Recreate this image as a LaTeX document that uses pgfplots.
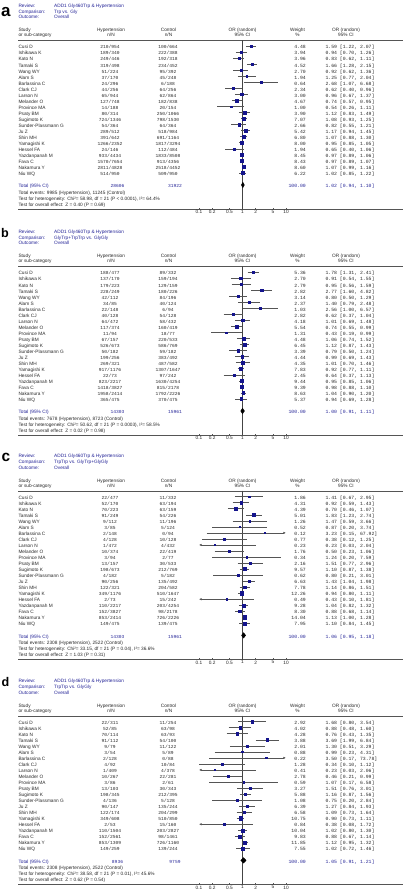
\documentclass[border=0pt]{standalone}
\usepackage{fontspec}
\setmainfont{Liberation Sans}
\newfontfamily\mono{Liberation Mono}
\usepackage{pgfplots}
\pgfplotsset{compat=1.18}
\usepackage{pgfplotstable}
\usetikzlibrary{arrows.meta}
\definecolor{rmblue}{RGB}{35,35,150}
\definecolor{mk}{RGB}{20,20,140}
\definecolor{ci}{RGB}{85,85,85}
\definecolor{txt}{RGB}{40,40,40}

\newcommand\sfs{\fontsize{4.75}{5}\selectfont}
\newcommand\mfs{\mono\fontsize{4.6}{5}\selectfont}
\newcommand\mfb{\mono\fontsize{4.8}{5}\selectfont}

\tikzset{noarr/.style={}, arrL/.style={{Latex[length=2.6pt,width=2.4pt]}-}, arrR/.style={-{Latex[length=2.6pt,width=2.4pt]}},
 ciline/.style={draw=ci, line width=0.55pt}}

\newcommand\mycol[5]{\foreach \s [count=\k] in #5 {\node[anchor=#4,inner sep=0pt,font=#1,text=txt] at (#2,{#3+(\k-1)*6.03}) {\s};}}

\newcommand\studies{Cusi D, Ishikawa K, Kato N, Tamaki S, Wang WY, Alam S, Barlassina C, Clark CJ, Larson N, Melander O, Province MA, Psaty BM, Sugimoto K, Sunder-Plassmann G, Ju Z, Shin MH, Yamagishi K, Hessel FA, Yazdanpanah M, Fava C, Nakamura Y, Niu WQ}

\newcommand\myheader[2]{%
 \begin{scope}[every node/.style={inner sep=0pt,font=\sfs,anchor=mid west}]
 \node[text=rmblue] at (18.3,{#1-41.8}) {Review:};
 \node[text=rmblue] at (18.3,{#1-35.9}) {Comparison:};
 \node[text=rmblue] at (18.3,{#1-30}) {Outcome:};
 \node[text=rmblue] at (54,{#1-41.8}) {ADD1 Gly460Trp \& Hypertension};
 \node[text=rmblue] at (54,{#1-35.9}) {#2};
 \node[text=rmblue] at (54,{#1-30}) {Overall};
 \node[text=txt] at (18.3,{#1-17.3}) {Study};
 \node[text=txt] at (18.3,{#1-12}) {or sub-category};
 \node[text=txt,anchor=mid] at (111,{#1-17.3}) {Hypertension};
 \node[text=txt,anchor=mid] at (111,{#1-12}) {n/N};
 \node[text=txt,anchor=mid] at (168.5,{#1-17.3}) {Control};
 \node[text=txt,anchor=mid] at (168.5,{#1-12}) {n/N};
 \node[text=txt,anchor=mid] at (242.5,{#1-17.3}) {OR (random)};
 \node[text=txt,anchor=mid] at (242.5,{#1-12}) {95\% CI};
 \node[text=txt,anchor=mid] at (297.5,{#1-17.3}) {Weight};
 \node[text=txt,anchor=mid] at (297.5,{#1-12}) {\%};
 \node[text=txt,anchor=mid] at (346,{#1-17.3}) {OR (random)};
 \node[text=txt,anchor=mid] at (346,{#1-12}) {95\% CI};
 \end{scope}
 \draw[draw=ci,line width=0.5pt] (18,{#1-5.8}) -- (403,{#1-5.8});
}

\newcommand\mysummary[7]{%
 \begin{scope}[every node/.style={inner sep=0pt,font=\sfs,anchor=mid west,text=txt}]
 \node[text=rmblue] at (18.3,{#1+138.7}) {Total (95\% CI)};
 \node[text=rmblue,font=\mfs,anchor=mid] at (117.5,{#1+138.7}) {#2};
 \node[text=rmblue,font=\mfs,anchor=mid] at (175,{#1+138.7}) {#3};
 \node[text=rmblue,font=\mfb,anchor=mid east] at (306,{#1+138.7}) {100.00};
 \node[text=rmblue,font=\mfb] at (325.3,{#1+138.7}) {#4};
 \node at (18.3,{#1+145.3}) {Total events: #5};
 \node at (18.3,{#1+151.3}) {Test for heterogeneity: #6};
 \node at (18.3,{#1+157.3}) {Test for overall effect: #7};
 \end{scope}
 \draw[draw=ci,line width=0.5pt] (18,{#1+162.8}) -- (403,{#1+162.8});
}

\newcommand\ciLines[1]{%
 \pgfplotsinvokeforeach{0,...,21}{%
  \pgfplotstablegetelem{##1}{lo}\of{#1}\let\cilo\pgfplotsretval
  \pgfplotstablegetelem{##1}{hi}\of{#1}\let\cihi\pgfplotsretval
  \pgfplotstablegetelem{##1}{i}\of{#1}\let\ciii\pgfplotsretval
  \pgfmathsetmacro\clo{max(\cilo,0.1)}%
  \pgfmathsetmacro\chx{min(\cihi,10)}%
  \pgfmathtruncatemacro\al{\cilo<0.1}%
  \pgfmathtruncatemacro\ar{\cihi>10}%
  \def\arr{noarr}%
  \ifnum\al=1 \def\arr{arrL}\fi
  \ifnum\ar=1 \def\arr{arrR}\fi
  \edef\doit{\noexpand\addplot[ciline,\arr] coordinates {(\clo,\ciii) (\chx,\ciii)};}\doit
 }}

% ---------------- data ----------------
\pgfplotstableread{
i or lo hi w
1 1.59 1.22 2.07 4.48
2 0.94 0.70 1.26 3.94
3 0.83 0.62 1.11 3.96
4 1.66 1.28 2.15 4.52
5 0.92 0.62 1.36 2.70
6 1.25 0.77 2.04 1.94
7 2.68 1.07 6.68 0.64
8 0.62 0.40 0.96 2.34
9 0.96 0.67 1.37 3.00
10 0.74 0.57 0.95 4.67
11 0.54 0.26 1.11 1.00
12 1.12 0.83 1.49 3.90
13 1.08 0.93 1.25 7.07
14 0.82 0.55 1.21 2.66
15 1.17 0.94 1.45 5.42
16 1.07 0.88 1.30 6.80
17 0.95 0.85 1.05 8.00
18 0.65 0.40 1.06 1.94
19 0.97 0.89 1.06 8.45
20 0.97 0.89 1.07 8.43
21 1.07 0.99 1.16 8.60
22 1.02 0.85 1.22 6.22
}\tblA
\pgfplotstableread{
i or lo hi w
1 1.78 1.31 2.41 5.36
2 0.91 0.54 1.55 2.70
3 0.95 0.56 1.59 2.79
4 2.77 1.60 4.82 2.82
5 0.80 0.50 1.29 3.14
6 1.40 0.79 2.48 2.37
7 2.56 1.00 6.57 1.03
8 0.62 0.37 1.04 2.82
9 1.01 0.69 1.48 4.18
10 0.74 0.55 0.99 5.54
11 0.43 0.19 0.99 1.31
12 1.06 0.74 1.52 4.48
13 1.12 0.87 1.43 6.45
14 0.79 0.50 1.24 3.39
15 0.99 0.69 1.43 4.44
16 1.01 0.70 1.46 4.35
17 0.92 0.77 1.11 7.83
18 0.64 0.37 1.13 2.45
19 0.95 0.85 1.06 9.44
20 0.98 0.88 1.10 9.39
21 1.04 0.90 1.20 8.63
22 0.94 0.69 1.28 5.37
}\tblB
\pgfplotstableread{
i or lo hi w
1 1.41 0.67 2.95 1.86
2 0.92 0.59 1.43 4.31
3 0.70 0.46 1.07 4.39
4 1.83 1.23 2.74 5.01
5 1.47 0.59 3.66 1.26
6 0.87 0.20 3.74 0.52
7 3.23 0.15 67.92 0.12
8 0.38 0.12 1.25 0.77
9 0.23 0.03 2.04 0.23
10 0.50 0.23 1.06 1.76
11 1.24 0.20 7.59 0.34
12 1.51 0.77 2.96 2.16
13 1.10 0.87 1.38 9.57
14 0.80 0.21 3.01 0.62
15 1.43 1.04 1.98 6.63
16 1.14 0.86 1.51 7.78
17 0.94 0.80 1.11 12.26
18 0.43 0.096 1.81 0.49
19 1.04 0.82 1.32 9.28
20 0.88 0.68 1.14 8.30
21 1.13 1.00 1.28 14.04
22 1.10 0.84 1.45 7.95
}\tblC
\pgfplotstableread{
i or lo hi w
1 1.68 0.80 3.54 2.92
2 0.88 0.48 1.60 4.02
3 0.76 0.43 1.35 4.28
4 3.69 1.99 6.84 3.88
5 1.30 0.51 3.29 2.01
6 0.99 0.23 4.31 0.88
7 3.50 0.17 73.78 0.22
8 0.34 0.10 1.12 1.28
9 0.23 0.03 2.06 0.41
10 0.46 0.21 0.99 2.78
11 1.07 0.17 6.58 0.59
12 1.51 0.76 3.01 3.27
13 1.16 0.87 1.56 5.88
14 0.75 0.20 2.84 1.08
15 1.27 0.84 1.93 6.39
16 1.09 0.73 1.64 6.58
17 0.90 0.73 1.11 10.75
18 0.38 0.08 1.72 0.84
19 1.02 0.80 1.30 10.04
20 0.88 0.67 1.14 9.83
21 1.12 0.95 1.32 11.85
22 1.02 0.72 1.46 7.55
}\tblD

\begin{document}
\begin{tikzpicture}
\begin{scope}[x=1pt,y=-1pt]
\path[use as bounding box] (0,0) rectangle (406,893);

% ===== panel a =====
\node[anchor=base west,inner sep=0pt,font=\fontsize{17}{17}\selectfont\bfseries] at (1,16.7) {a};
\myheader{46.3}{Trp vs. Gly}
\mycol{\sfs}{18.3}{46.3}{mid west}{\studies}
\mycol{\mfs}{110}{46.3}{mid}{{210/954, 189/340, 249/446, 319/498, 51/224, 37/170, 24/296, 44/256, 65/944, 127/748, 14/188, 80/314, 724/1346, 54/364, 289/512, 391/642, 1266/2352, 24/146, 933/4434, 1570/7654, 2811/4828, 514/950}}
\mycol{\mfs}{168}{46.3}{mid}{{100/664, 222/388, 192/318, 234/452, 95/392, 45/248, 6/188, 64/256, 62/864, 182/838, 20/154, 250/1066, 798/1530, 64/364, 518/984, 691/1164, 1817/3294, 112/484, 1833/8508, 913/4356, 2518/4452, 509/950}}
\mycol{\mfb}{306}{46.3}{mid east}{{4.48, 3.94, 3.96, 4.52, 2.70, 1.94, 0.64, 2.34, 3.00, 4.67, 1.00, 3.90, 7.07, 2.66, 5.42, 6.80, 8.00, 1.94, 8.45, 8.43, 8.60, 6.22}}
\mycol{\mfb}{325.3}{46.3}{mid west}{{{1.59 [1.22, 2.07]}, {0.94 [0.70, 1.26]}, {0.83 [0.62, 1.11]}, {1.66 [1.28, 2.15]}, {0.92 [0.62, 1.36]}, {1.25 [0.77, 2.04]}, {2.68 [1.07, 6.68]}, {0.62 [0.40, 0.96]}, {0.96 [0.67, 1.37]}, {0.74 [0.57, 0.95]}, {0.54 [0.26, 1.11]}, {1.12 [0.83, 1.49]}, {1.08 [0.93, 1.25]}, {0.82 [0.55, 1.21]}, {1.17 [0.94, 1.45]}, {1.07 [0.88, 1.30]}, {0.95 [0.85, 1.05]}, {0.65 [0.40, 1.06]}, {0.97 [0.89, 1.06]}, {0.97 [0.89, 1.07]}, {1.07 [0.99, 1.16]}, {1.02 [0.85, 1.22]}}}
\mysummary{46.3}{28606}{31922}{1.02 [0.94, 1.10]}{9985 (Hypertension), 11245 (Control)}{Chi²= 58.98, df = 21 (P < 0.0001), I²= 64.4\%}{Z = 0.40 (P = 0.69)}

% ===== panel b =====
\node[anchor=base west,inner sep=0pt,font=\fontsize{12.6}{12.6}\selectfont\bfseries] at (1,237.7) {b};
\myheader{272.3}{GlyTrp+TrpTrp vs. GlyGly}
\mycol{\sfs}{18.3}{272.3}{mid west}{\studies}
\mycol{\mfs}{110}{272.3}{mid}{{188/477, 137/170, 179/223, 228/249, 42/112, 34/85, 22/148, 40/128, 64/472, 117/374, 11/94, 67/157, 526/673, 50/182, 199/256, 269/321, 917/1176, 22/73, 823/2217, 1418/3827, 1958/2414, 365/475}}
\mycol{\mfs}{168}{272.3}{mid}{{89/332, 159/194, 129/159, 180/226, 84/196, 40/124, 6/94, 54/128, 58/432, 160/419, 18/77, 220/533, 586/769, 59/182, 383/492, 487/582, 1307/1647, 97/242, 1630/4254, 815/2178, 1792/2226, 370/475}}
\mycol{\mfb}{306}{272.3}{mid east}{{5.36, 2.70, 2.79, 2.82, 3.14, 2.37, 1.03, 2.82, 4.18, 5.54, 1.31, 4.48, 6.45, 3.39, 4.44, 4.35, 7.83, 2.45, 9.44, 9.39, 8.63, 5.37}}
\mycol{\mfb}{325.3}{272.3}{mid west}{{{1.78 [1.31, 2.41]}, {0.91 [0.54, 1.55]}, {0.95 [0.56, 1.59]}, {2.77 [1.60, 4.82]}, {0.80 [0.50, 1.29]}, {1.40 [0.79, 2.48]}, {2.56 [1.00, 6.57]}, {0.62 [0.37, 1.04]}, {1.01 [0.69, 1.48]}, {0.74 [0.55, 0.99]}, {0.43 [0.19, 0.99]}, {1.06 [0.74, 1.52]}, {1.12 [0.87, 1.43]}, {0.79 [0.50, 1.24]}, {0.99 [0.69, 1.43]}, {1.01 [0.70, 1.46]}, {0.92 [0.77, 1.11]}, {0.64 [0.37, 1.13]}, {0.95 [0.85, 1.06]}, {0.98 [0.88, 1.10]}, {1.04 [0.90, 1.20]}, {0.94 [0.69, 1.28]}}}
\mysummary{272.3}{14303}{15961}{1.00 [0.91, 1.11]}{7678 (Hypertension), 8723 (Control)}{Chi²= 50.62, df = 21 (P = 0.0003), I²= 58.5\%}{Z = 0.02 (P = 0.98)}

% ===== panel c =====
\node[anchor=base west,inner sep=0pt,font=\fontsize{15.4}{15.4}\selectfont\bfseries] at (1.5,461.3) {c};
\myheader{496.7}{TrpTrp vs. GlyTrp+GlyGly}
\mycol{\sfs}{18.3}{496.7}{mid west}{\studies}
\mycol{\mfs}{110}{496.7}{mid}{{22/477, 52/170, 70/223, 91/249, 9/112, 3/85, 2/148, 4/128, 1/472, 10/374, 3/94, 13/157, 198/673, 4/182, 90/256, 122/321, 349/1176, 2/73, 110/2217, 152/3827, 853/2414, 149/475}}
\mycol{\mfs}{168}{496.7}{mid}{{11/332, 63/194, 63/159, 54/226, 11/196, 5/124, 0/94, 10/128, 4/432, 22/419, 2/77, 30/533, 212/769, 5/182, 135/492, 204/582, 510/1647, 15/242, 203/4254, 98/2178, 726/2226, 139/475}}
\mycol{\mfb}{306}{496.7}{mid east}{{1.86, 4.31, 4.39, 5.01, 1.26, 0.52, 0.12, 0.77, 0.23, 1.76, 0.34, 2.16, 9.57, 0.62, 6.63, 7.78, 12.26, 0.49, 9.28, 8.30, 14.04, 7.95}}
\mycol{\mfb}{325.3}{496.7}{mid west}{{{1.41 [0.67, 2.95]}, {0.92 [0.59, 1.43]}, {0.70 [0.46, 1.07]}, {1.83 [1.23, 2.74]}, {1.47 [0.59, 3.66]}, {0.87 [0.20, 3.74]}, {3.23 [0.15, 67.92]}, {0.38 [0.12, 1.25]}, {0.23 [0.03, 2.04]}, {0.50 [0.23, 1.06]}, {1.24 [0.20, 7.59]}, {1.51 [0.77, 2.96]}, {1.10 [0.87, 1.38]}, {0.80 [0.21, 3.01]}, {1.43 [1.04, 1.98]}, {1.14 [0.86, 1.51]}, {0.94 [0.80, 1.11]}, {0.43 [0.10, 1.81]}, {1.04 [0.82, 1.32]}, {0.88 [0.68, 1.14]}, {1.13 [1.00, 1.28]}, {1.10 [0.84, 1.45]}}}
\mysummary{496.7}{14303}{15961}{1.06 [0.95, 1.18]}{2308 (Hypertension), 2522 (Control)}{Chi²= 33.15, df = 21 (P = 0.04), I²= 36.6\%}{Z = 1.03 (P = 0.31)}

% ===== panel d =====
\node[anchor=base west,inner sep=0pt,font=\fontsize{12.6}{12.6}\selectfont\bfseries] at (1.5,686.7) {d};
\myheader{721.7}{TrpTrp vs. GlyGly}
\mycol{\sfs}{18.3}{721.7}{mid west}{\studies}
\mycol{\mfs}{110}{721.7}{mid}{{22/311, 52/85, 70/114, 91/112, 9/79, 3/54, 2/128, 4/92, 1/409, 10/267, 3/86, 13/103, 198/345, 4/136, 90/147, 122/174, 349/608, 2/53, 110/1504, 152/2561, 853/1309, 149/259}}
\mycol{\mfs}{168}{721.7}{mid}{{11/254, 63/98, 63/93, 54/100, 11/122, 5/89, 0/88, 10/84, 4/378, 22/281, 2/61, 30/343, 212/395, 5/128, 135/244, 204/299, 510/850, 15/160, 203/2827, 98/1461, 726/1160, 139/244}}
\mycol{\mfb}{306}{721.7}{mid east}{{2.92, 4.02, 4.28, 3.88, 2.01, 0.88, 0.22, 1.28, 0.41, 2.78, 0.59, 3.27, 5.88, 1.08, 6.39, 6.58, 10.75, 0.84, 10.04, 9.83, 11.85, 7.55}}
\mycol{\mfb}{325.3}{721.7}{mid west}{{{1.68 [0.80, 3.54]}, {0.88 [0.48, 1.60]}, {0.76 [0.43, 1.35]}, {3.69 [1.99, 6.84]}, {1.30 [0.51, 3.29]}, {0.99 [0.23, 4.31]}, {3.50 [0.17, 73.78]}, {0.34 [0.10, 1.12]}, {0.23 [0.03, 2.06]}, {0.46 [0.21, 0.99]}, {1.07 [0.17, 6.58]}, {1.51 [0.76, 3.01]}, {1.16 [0.87, 1.56]}, {0.75 [0.20, 2.84]}, {1.27 [0.84, 1.93]}, {1.09 [0.73, 1.64]}, {0.90 [0.73, 1.11]}, {0.38 [0.08, 1.72]}, {1.02 [0.80, 1.30]}, {0.88 [0.67, 1.14]}, {1.12 [0.95, 1.32]}, {1.02 [0.72, 1.46]}}}
\mysummary{721.7}{8936}{9759}{1.05 [0.91, 1.21]}{2308 (Hypertension), 2522 (Control)}{Chi²= 38.58, df = 21 (P = 0.01), I²= 45.6\%}{Z = 0.62 (P = 0.54)}
\end{scope}

\pgfplotsset{every axis/.append style={anchor=south west, scale only axis, width=87pt, height=168.84pt,
 xmin=0.1, xmax=10, ymin=0, ymax=28, y dir=reverse,
 axis y line=none, axis x line*=bottom, axis line style={draw=ci,line width=0.5pt},
 xtick={0.1,0.2,0.5,1,2,5,10}, xticklabels={0.1,0.2,0.5,1,2,5,10}, minor xtick={},
 tick align=inside, major tick length=1.6pt, tick style={draw=ci,line width=0.5pt},
 xticklabel style={font=\sfs, inner sep=1pt, text=txt}, clip=false}}

\begin{semilogxaxis}[at={(199pt,-209.1pt)}]
 \addplot[draw=ci!80!black, line width=0.6pt] coordinates {(1,0) (1,28)};
 \ciLines{\tblA}
 \addplot[scatter, only marks, mark=square*, scatter/use mapped color={draw=mk,fill=mk},
   visualization depends on={0.55+0.3*sqrt(\thisrow{w}) \as \msz},
   scatter/@pre marker code/.append style={/tikz/mark size=\msz}] table[x=or,y=i] {\tblA};
 \addplot[fill=black, draw=black] coordinates {(0.94,24) (1.02,23.55) (1.10,24) (1.02,24.45) (0.94,24)};
\end{semilogxaxis}

\begin{semilogxaxis}[at={(199pt,-435.1pt)}]
 \addplot[draw=ci!80!black, line width=0.6pt] coordinates {(1,0) (1,28)};
 \ciLines{\tblB}
 \addplot[scatter, only marks, mark=square*, scatter/use mapped color={draw=mk,fill=mk},
   visualization depends on={0.55+0.3*sqrt(\thisrow{w}) \as \msz},
   scatter/@pre marker code/.append style={/tikz/mark size=\msz}] table[x=or,y=i] {\tblB};
 \addplot[fill=black, draw=black] coordinates {(0.91,24) (1.00,23.55) (1.11,24) (1.00,24.45) (0.91,24)};
\end{semilogxaxis}

\begin{semilogxaxis}[at={(199pt,-659.5pt)}]
 \addplot[draw=ci!80!black, line width=0.6pt] coordinates {(1,0) (1,28)};
 \ciLines{\tblC}
 \addplot[scatter, only marks, mark=square*, scatter/use mapped color={draw=mk,fill=mk},
   visualization depends on={0.55+0.3*sqrt(\thisrow{w}) \as \msz},
   scatter/@pre marker code/.append style={/tikz/mark size=\msz}] table[x=or,y=i] {\tblC};
 \addplot[fill=black, draw=black] coordinates {(0.95,24) (1.06,23.55) (1.18,24) (1.06,24.45) (0.95,24)};
\end{semilogxaxis}

\begin{semilogxaxis}[at={(199pt,-884.5pt)}]
 \addplot[draw=ci!80!black, line width=0.6pt] coordinates {(1,0) (1,28)};
 \ciLines{\tblD}
 \addplot[scatter, only marks, mark=square*, scatter/use mapped color={draw=mk,fill=mk},
   visualization depends on={0.55+0.3*sqrt(\thisrow{w}) \as \msz},
   scatter/@pre marker code/.append style={/tikz/mark size=\msz}] table[x=or,y=i] {\tblD};
 \addplot[fill=black, draw=black] coordinates {(0.91,24) (1.05,23.55) (1.21,24) (1.05,24.45) (0.91,24)};
\end{semilogxaxis}
\end{tikzpicture}
\end{document}
